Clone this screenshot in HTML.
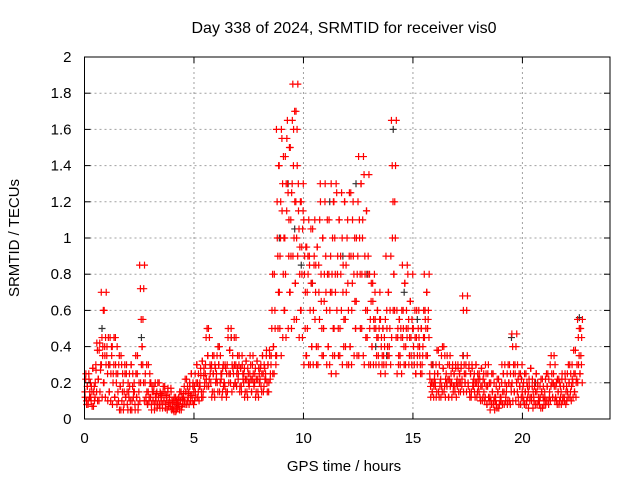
<!DOCTYPE html>
<html><head><meta charset="utf-8">
<style>
body{margin:0;background:#fff;}
svg{display:block;font-family:"Liberation Sans",sans-serif;}
</style></head>
<body>
<svg id="chart" width="640" height="480" viewBox="0 0 640 480">
<rect width="640" height="480" fill="#fff"/>
<g id="grid"></g>
<g id="marks"></g>
<g id="axes"></g>
<text x="344" y="33" font-size="16" text-anchor="middle" fill="#000">Day 338 of 2024, SRMTID for receiver vis0</text>
<text x="344" y="471" font-size="15" text-anchor="middle" fill="#000">GPS time / hours</text>
<text x="19" y="238" font-size="15" text-anchor="middle" fill="#000" transform="rotate(-90 19 238)">SRMTID / TECUs</text>
</svg>
<script>
var xTicks=[0,5,10,15,20];
var yTicks=[0,0.2,0.4,0.6,0.8,1,1.2,1.4,1.6,1.8,2];
var yTickLabels=["0","0.2","0.4","0.6","0.8","1","1.2","1.4","1.6","1.8","2"];
var binStart=0, binWidth=0.25;
var bins=[
"15 22 10 18 8 25 12","20 10 15 28 7 18 12","30 15 38 22 10 42 27","70 45 35 60 20 40 12 30",
"35 25 45 15 30 10 40","40 20 30 12 45 25 8","25 10 35 18 5 30 15","20 8 30 12 25 15 5",
"15 25 10 30 5 18 12","20 8 35 12 25 5 15","85 72 55 40 30 20 10","20 12 30 8 15 10 25",
"12 8 18 10 15 5 20","10 15 8 12 20 6 14","12 8 15 10 18 6 13","10 15 7 12 9 17 5",
"6 10 4 8 12 5 9","8 12 5 10 15 7 11","12 18 8 15 22 10 14","15 20 10 25 13 18 8",
"18 25 12 30 20 15 10","20 28 15 32 12 24 18","25 45 18 35 50 22 30","20 30 15 25 35 12 28",
"22 35 15 30 40 20 25","25 15 30 20 18 28 12","30 45 20 38 25 50 15","35 25 45 20 30 18 28",
"22 30 15 28 18 35 25","20 28 15 32 22 12 25","18 25 30 15 22 35 20","20 28 15 32 22 12 25",
"22 30 15 35 25 18 28","25 35 20 30 15 38 22","30 50 80 40 25 60 35","160 120 90 70 140 50 100 35",
"155 130 80 100 60 145 45 115","165 125 90 150 70 110 50 130","185 140 100 170 75 120 55 160 90","130 105 80 120 60 95 45 115",
"110 80 50 95 35 70 90 30","90 60 105 40 75 30 85","110 70 40 95 30 85 55","130 80 50 100 35 65 120",
"90 60 110 40 80 30 70","130 70 100 50 120 35 80 25","125 80 50 110 35 90 60","100 70 40 120 55 85 30",
"110 60 90 40 125 30 75","120 80 100 50 65 35 90","145 110 80 130 50 100 35","135 90 60 115 45 80 30",
"80 55 65 40 75 30 50","70 50 35 60 45 30 55","55 40 30 50 35 45 25","90 60 40 70 35 50 30",
"165 140 120 80 60 100 45","60 45 30 55 35 50 25","85 60 40 75 30 50 45","80 55 35 65 45 30 50",
"50 35 60 25 45 30 40","60 40 30 50 25 35 45","80 60 50 70 35 55 45","25 18 30 15 20 12 22",
"20 30 15 25 38 12 18","22 35 15 28 40 18 12","25 18 30 12 22 35 20","20 28 15 25 18 30 12",
"22 30 15 25 20 28 18","68 60 30 20 25 15 35","20 28 15 25 12 30 18","18 25 12 30 20 15 22",
"15 22 10 28 18 12 25","20 12 25 8 18 30 10","12 20 8 15 25 10 5","10 18 6 15 22 8 12",
"12 20 8 25 15 30 10","15 25 10 20 30 8 18","47 40 25 15 30 10 20","15 22 8 18 25 12 30",
"12 20 8 15 25 10 18","15 22 10 28 12 18 6","12 18 8 25 15 20 10","10 18 6 15 22 12 8",
"15 22 10 18 25 8 12","30 18 25 12 20 35 10","12 20 8 15 22 10 18","15 22 10 18 12 25 8",
"18 25 12 20 30 15 10","30 20 38 15 25 12 22","55 45 35 25 50 30 20"
];
var blackTimes=[0.8,1.1,2.6,4.2,6.1,6.7,8.9,9.3,9.6,9.9,10.4,11.2,11.8,12.4,12.9,13.3,13.8,14.1,14.6,15.2,15.9,17.3,19.5,20.6,22.6];
var blackValues=[0.5,0.3,0.45,0.08,0.4,0.45,1.0,1.3,1.05,0.85,0.75,1.2,0.9,1.3,0.8,0.4,0.35,1.6,0.7,0.55,0.3,0.35,0.45,0.2,0.56];

var X0=84.5,X1=610,Y0=419,Y1=57,XMAX=24,YMAX=2;
function sx(v){return X0+(X1-X0)*v/XMAX;}
function sy(v){return Y0-(Y0-Y1)*v/YMAX;}
var NS="http://www.w3.org/2000/svg";
function mk(tag,attrs,parent){var e=document.createElementNS(NS,tag);for(var k in attrs)e.setAttribute(k,attrs[k]);parent.appendChild(e);return e;}
var grid=document.getElementById('grid'),axes=document.getElementById('axes'),marks=document.getElementById('marks');
xTicks.forEach(function(t){
  var x=sx(t);
  if(t>0){var g=mk('line',{x1:x,y1:Y0,x2:x,y2:Y1,stroke:'#a0a0a0','stroke-dasharray':'2,3'},grid);
  
  }
  mk('line',{x1:x,y1:Y0,x2:x,y2:Y0-6,stroke:'#000'},axes);
  mk('line',{x1:x,y1:Y1,x2:x,y2:Y1+6,stroke:'#000'},axes);
  var tx=mk('text',{x:x,y:Y0+24,'font-size':15,'text-anchor':'middle',fill:'#000'},axes);
  tx.textContent=String(t);
  
  
});
yTicks.forEach(function(t,i){
  var y=sy(t);
  if(t>0&&t<YMAX){var g=mk('line',{x1:X0,y1:y,x2:X1,y2:y,stroke:'#a0a0a0','stroke-dasharray':'2,3'},grid);
  
  }
  mk('line',{x1:X0,y1:y,x2:X0+6,y2:y,stroke:'#000'},axes);
  mk('line',{x1:X1,y1:y,x2:X1-6,y2:y,stroke:'#000'},axes);
  var tx=mk('text',{x:X0-13,y:y+5,'font-size':15,'text-anchor':'end',fill:'#000'},axes);
  tx.textContent=yTickLabels[i];
  
  
});
var frame=mk('rect',{x:X0,y:Y1,width:X1-X0,height:Y0-Y1,fill:'none',stroke:'#000'},axes);


function plus(t,v,color){
  var x=sx(t),y=sy(v);
  var p=mk('path',{d:'M'+(x-3.5)+' '+y+'H'+(x+3.5)+'M'+x+' '+(y-3.5)+'V'+(y+3.5),stroke:color,'stroke-width':1.2,fill:'none'},marks);
  
  
}
blackTimes.forEach(function(t,i){plus(t,blackValues[i],'#333');});
bins.forEach(function(s,b){
  var vals=s.split(' ').map(function(v){return parseFloat(v)/100;});
  var t0=binStart+b*binWidth, n=vals.length;
  vals.forEach(function(v,i){
    plus(t0+(i+0.5)*binWidth/n,v,'#ff0000');
    plus(t0+(n-i-0.25)*binWidth/n,v,'#ff0000');
  });
});
</script>
</body></html>
